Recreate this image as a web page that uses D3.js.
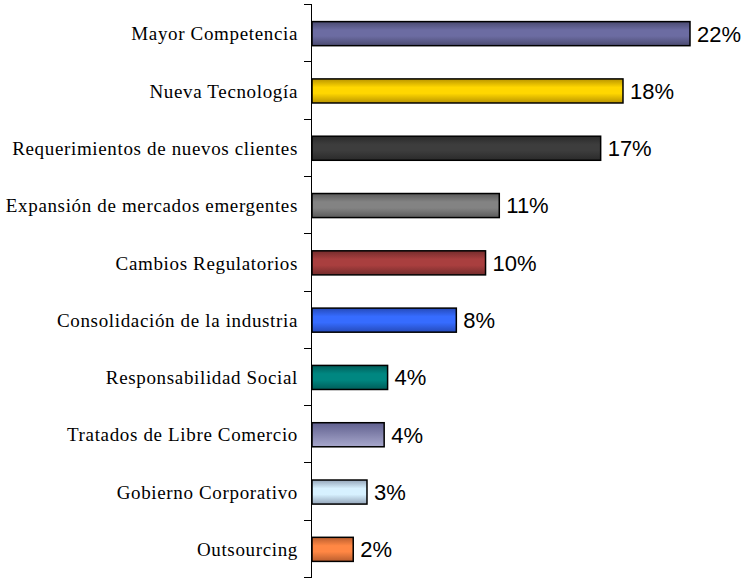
<!DOCTYPE html>
<html>
<head>
    <meta charset="utf-8">
    <title>Factores</title>
    <script src="https://d3js.org/d3.v7.min.js"></script>
    <style>
        body { margin: 0; background: #fff; }
        .cat { font-family: "Liberation Serif", "Times New Roman", serif; font-size: 19px; letter-spacing: 0.65px; }
        .val { font-family: "Liberation Sans", Arial, sans-serif; font-size: 22px; }
    </style>
</head>
<body>
    <svg width="743" height="580"></svg>

    <script>
    // values (labels show the rounded number)
    const categories = ["Mayor Competencia", "Nueva Tecnología", "Requerimientos de nuevos clientes",
        "Expansión de mercados emergentes", "Cambios Regulatorios", "Consolidación de la industria",
        "Responsabilidad Social", "Tratados de Libre Comercio", "Gobierno Corporativo", "Outsourcing"];
    const values = [22.0, 18.1, 16.8, 10.9, 10.1, 8.4, 4.4, 4.2, 3.2, 2.4];
    const valueLabels = ["22%", "18%", "17%", "11%", "10%", "8%", "4%", "4%", "3%", "2%"];
    const colors = ["#66669a", "#ffcc00", "#3a3a3a", "#7c7c7c", "#a03c3c",
        "#3366ff", "#00807a", "#9c9cc8", "#cce4ff", "#ff8040"];

    const svg = d3.select("svg");
    const x0 = 312, yTop = 4, yBottom = 577;

    const x = d3.scaleLinear().domain([0, 22]).range([x0, 690]);
    const band = d3.scaleBand().domain(categories).range([yTop, yBottom]);
    const y = d3.scaleBand().domain(categories).range([yTop, yBottom])
        .paddingInner(0.58).paddingOuter(0.29);

    // gradients: dark edges, bright middle
    const defs = svg.append("defs");
    colors.forEach((c, i) => {
        const g = defs.append("linearGradient").attr("id", "g" + i)
            .attr("x1", 0).attr("y1", 0).attr("x2", 0).attr("y2", 1);
        const base = d3.color(c);
        if (i === 7) {
            g.append("stop").attr("offset", "0%").attr("stop-color", "#60608f");
            g.append("stop").attr("offset", "100%").attr("stop-color", "#a8a8cc");
        } else {
            g.append("stop").attr("offset", "0%").attr("stop-color", base.darker(0.9));
            g.append("stop").attr("offset", "35%").attr("stop-color", base.brighter(0.15));
            g.append("stop").attr("offset", "60%").attr("stop-color", base.brighter(0.15));
            g.append("stop").attr("offset", "100%").attr("stop-color", base.darker(0.9));
        }
    });

    svg.selectAll("rect.bar")
        .data(categories)
        .enter().append("rect")
        .attr("class", "bar")
        .attr("x", x0)
        .attr("y", d => y(d) + 1)
        .attr("width", (d, i) => x(values[i]) - x0)
        .attr("height", y.bandwidth())
        .attr("fill", (d, i) => "url(#g" + i + ")")
        .attr("stroke", "#000")
        .attr("stroke-width", 1.5);

    // axis line and ticks at category boundaries
    svg.append("line")
        .attr("x1", x0 - 0.5).attr("x2", x0 - 0.5)
        .attr("y1", yTop).attr("y2", yBottom)
        .attr("stroke", "#000");
    const tickYs = categories.map(d => band(d)).concat([yBottom]);
    svg.selectAll("line.tick")
        .data(tickYs)
        .enter().append("line")
        .attr("class", "tick")
        .attr("x1", x0 - 8).attr("x2", x0)
        .attr("y1", d => Math.round(d) + 0.5).attr("y2", d => Math.round(d) + 0.5)
        .attr("stroke", "#000");

    svg.selectAll("text.cat")
        .data(categories)
        .enter().append("text")
        .attr("class", "cat")
        .attr("x", 298)
        .attr("y", d => y(d) + 1 + y.bandwidth() / 2)
        .attr("dy", "0.35em")
        .attr("text-anchor", "end")
        .text(d => d);

    svg.selectAll("text.val")
        .data(categories)
        .enter().append("text")
        .attr("class", "val")
        .attr("x", (d, i) => x(values[i]) + 7)
        .attr("y", d => y(d) + 1 + y.bandwidth() / 2)
        .attr("dy", "0.36em")
        .text((d, i) => valueLabels[i]);
    </script>
</body>
</html>
